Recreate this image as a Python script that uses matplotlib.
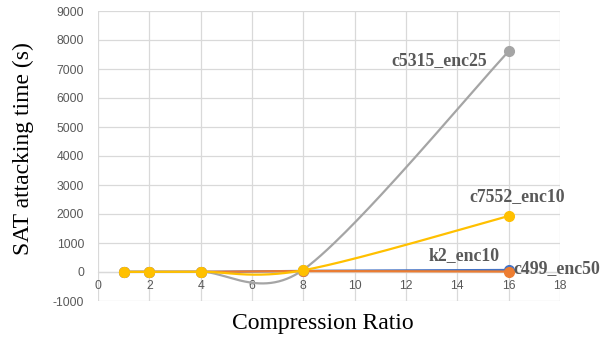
import numpy as np
import matplotlib
matplotlib.use("Agg")
import matplotlib.pyplot as plt

plt.rcParams["axes.unicode_minus"] = False

# ---- data ----
ratios = [1, 2, 4, 8, 16]
series_names = ["k2_enc10", "c499_enc50", "c5315_enc25", "c7552_enc10"]
k2_enc10 = [5, 5, 5, 40, 70]
c499_enc50 = [2, 3, 3, 30, 15]
c5315_enc25 = [5, 8, 10, 80, 7610]
c7552_enc10 = [5, 8, 10, 60, 1930]
colors = ["#4472C4", "#ED7D31", "#A5A5A5", "#FFC000"]
xticks = [0, 2, 4, 6, 8, 10, 12, 14, 16, 18]
yticks = [-1000, 0, 1000, 2000, 3000, 4000, 5000, 6000, 7000, 8000, 9000]

W, H, DPI = 613, 339, 100
fig = plt.figure(figsize=(W / DPI, H / DPI), dpi=DPI)
ax = fig.add_axes([98 / W, 1 - 301 / H, (560 - 98) / W, (301 - 11) / H])
ax.set_xlim(0, 18)
ax.set_ylim(-1000, 9000)
ax.set_xticks(xticks)
ax.set_yticks(yticks)
for s in ["top", "right", "left"]:
    ax.spines[s].set_visible(False)
ax.spines["bottom"].set_position(("data", 0))
ax.spines["bottom"].set_color("#D9D9D9")
ax.spines["bottom"].set_linewidth(0.9)
ax.grid(True, color="#D9D9D9", linewidth=0.9)
ax.set_axisbelow(True)
ax.tick_params(length=0, labelsize=8.8, labelcolor="#595959")
ax.tick_params(axis="x", pad=6)
ax.tick_params(axis="y", pad=10)
for lab in ax.get_xticklabels() + ax.get_yticklabels():
    lab.set_fontfamily("Liberation Sans")


def excel_smooth(xs, ys, n=60):
    pts = ax.transData.transform(np.column_stack([xs, ys]))
    out = [pts[0]]
    m = len(pts)
    for i in range(m - 1):
        p1, p2 = pts[i], pts[i + 1]
        p0 = pts[i - 1] if i > 0 else p1
        p3 = pts[i + 2] if i + 2 < m else p2
        d02 = np.linalg.norm(p2 - p0)
        d12 = np.linalg.norm(p2 - p1)
        d13 = np.linalg.norm(p3 - p1)
        f = 1 / 6
        g = 1 / 6
        if d02 > 0 and d02 / 6 >= d12 / 2:
            f = d12 / d02 / 2
        if d13 > 0 and d13 / 6 >= d12 / 2:
            g = d12 / d13 / 2
        c1 = p1 + (p2 - p0) * f
        c2 = p2 - (p3 - p1) * g
        t = np.linspace(0, 1, n)[1:, None]
        b = ((1 - t) ** 3) * p1 + 3 * ((1 - t) ** 2) * t * c1 + 3 * (1 - t) * t ** 2 * c2 + t ** 3 * p2
        out.extend(b)
    out = np.array(out)
    data = ax.transData.inverted().transform(out)
    return data[:, 0], data[:, 1]


all_series = [k2_enc10, c499_enc50, c5315_enc25, c7552_enc10]
for k, (vals, col) in enumerate(zip(all_series, colors)):
    sx, sy = excel_smooth(ratios, vals)
    ax.plot(sx, sy, color=col, lw=1.6, zorder=3 + k, solid_capstyle="round")
    ax.plot(ratios, vals, "o", color=col, ms=7, zorder=3 + k)

lab_font = dict(family="Liberation Serif", weight="bold", color="#595959", fontsize=12.8)
# (series index, offset x px, offset y px, ha)
label_specs = [
    (0, -45, 14, "center"),
    (1, 5, 3, "left"),
    (2, -22, -9, "right"),
    (3, 9, 19, "center"),
]
for idx, dx, dy, ha in label_specs:
    ax.annotate(series_names[idx], xy=(ratios[-1], all_series[idx][-1]),
                xytext=(dx, dy), textcoords="offset pixels",
                ha=ha, va="center", zorder=10, **lab_font)

fig.text(323 / W, 1 - 324 / H, "Compression Ratio", ha="center", va="center",
         family="Liberation Serif", fontsize=17, color="black")
fig.text(23 / W, 1 - 148.5 / H, "SAT attacking time (s)", ha="center", va="center",
         rotation=90, family="Liberation Serif", fontsize=17, color="black")

fig.savefig("out.png", dpi=DPI)
